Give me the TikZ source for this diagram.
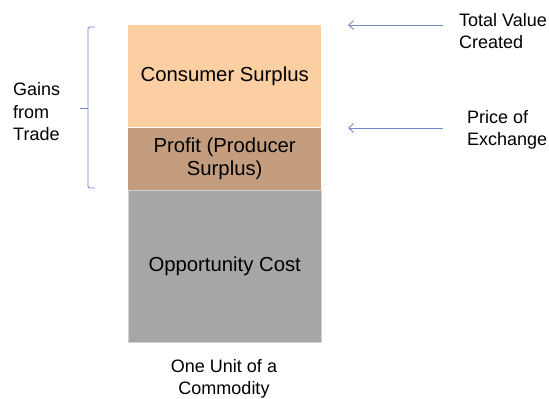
\documentclass[tikz,border=0pt]{standalone}
\usepackage{fontspec}
\setmainfont{Liberation Sans}
\usetikzlibrary{positioning,arrows.meta}
\definecolor{peach}{HTML}{FBCFA1}
\definecolor{tan}{HTML}{C49D7E}
\definecolor{stone}{HTML}{A6A6A6}
\definecolor{pointer}{HTML}{7089C9}
\tikzset{
    layer/.style={draw=none, minimum width=193pt, inner sep=0pt, align=center,
        font=\fontsize{20.3}{22.5}\selectfont},
    label/.style={align=left, inner sep=0pt, font=\fontsize{18}{22.5}\selectfont},
    pointer/.style={draw=pointer, line width=0.9pt, -{Straight Barb[length=5pt,width=9pt]}}
}
\begin{document}
\begin{tikzpicture}[x=1pt,y=-1pt]
    \useasboundingbox (0,0) rectangle (549,399);
    % the stacked column
    \node[layer, fill=peach, minimum height=102pt, anchor=north west] (cs) at (128,25) {Consumer Surplus};
    \node[layer, fill=tan, minimum height=62pt, below=0pt of cs] (ps) {Profit (Producer\\Surplus)};
    \node[layer, fill=stone, draw=black!18, line width=1pt, minimum height=152pt, below=0pt of ps] (oc) {Opportunity Cost};
    \node[label, align=center] (unit) at (224,379) {One Unit of a\\Commodity};
    % brace on the left
    \node[label, anchor=west] (gains) at (13,112) {Gains\\from\\Trade};
    \draw[pointer, -, line width=0.8pt, rounded corners=1.5pt] (95,27) -- (88,27) -- (88,188) -- (95,188);
    \draw[pointer, -, line width=0.8pt] (88,108) -- (80,108);
    % pointers on the right
    \node[label, anchor=west] (total) at (459,31) {Total Value\\Created};
    \node[label, anchor=west] (price) at (467,130) {Price of\\Exchange};
    \coordinate (t0) at (443,25);
    \coordinate (t1) at (348,25);
    \coordinate (p0) at (443,128);
    \coordinate (p1) at (348,128);
    \draw[pointer] (t0) -- (t1);
    \draw[pointer] (p0) -- (p1);
\end{tikzpicture}
\end{document}
